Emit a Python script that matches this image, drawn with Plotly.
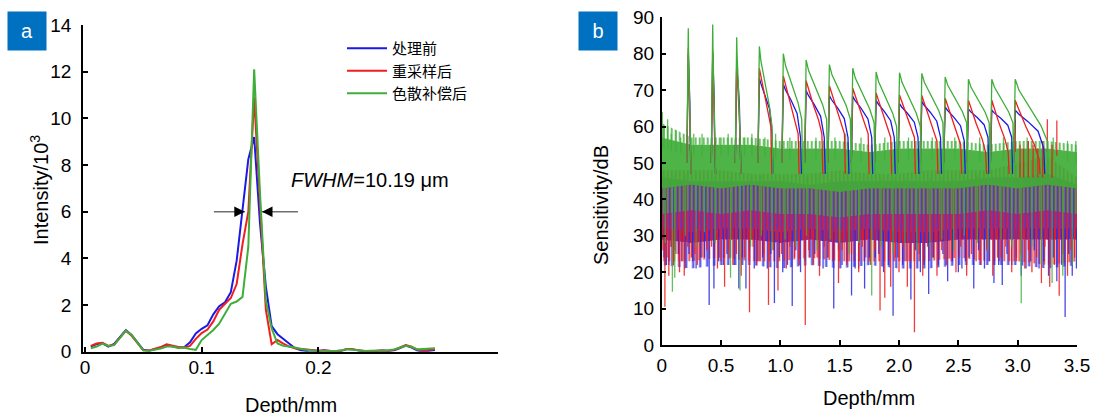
import numpy as np
import plotly.graph_objects as go

# ---------------- Panel a : axial point-spread profile ----------------
depth_a = [0.005, 0.010, 0.015, 0.020, 0.025, 0.030, 0.035, 0.040, 0.045, 0.050,
           0.055, 0.060, 0.065, 0.070, 0.075, 0.080, 0.085, 0.090, 0.095, 0.100,
           0.105, 0.110, 0.115, 0.120, 0.125, 0.130, 0.135, 0.140, 0.145, 0.150,
           0.155, 0.160, 0.165, 0.170, 0.175, 0.180, 0.185, 0.190, 0.195, 0.200,
           0.205, 0.210, 0.215, 0.220, 0.225, 0.230, 0.235, 0.240, 0.245, 0.250,
           0.255, 0.260, 0.265, 0.270, 0.275, 0.280, 0.285, 0.290, 0.295, 0.300]

raw_a = [0.22, 0.33, 0.36, 0.22, 0.33, 0.62, 0.92, 0.72, 0.38, 0.08,
         0.04, 0.10, 0.18, 0.30, 0.22, 0.18, 0.19, 0.40, 0.78, 0.98,
         1.13, 1.60, 1.95, 2.12, 2.55, 3.90, 6.00, 8.25, 9.20, 5.50,
         2.80, 1.10, 0.75, 0.55, 0.32, 0.15, 0.06, 0.03, 0.05, 0.03,
         0.06, 0.02, 0.00, 0.04, 0.12, 0.10, 0.04, 0.02, 0.00, 0.03,
         0.05, 0.03, 0.06, 0.16, 0.26, 0.18, 0.05, 0.00, 0.04, 0.07]

resampled_a = [0.25, 0.35, 0.38, 0.25, 0.30, 0.60, 0.90, 0.68, 0.35, 0.06,
               0.05, 0.12, 0.20, 0.32, 0.25, 0.20, 0.18, 0.25, 0.55, 0.80,
               0.95, 1.30, 1.80, 2.05, 2.30, 2.90, 4.60, 6.00, 10.90, 6.40,
               1.80, 0.32, 0.50, 0.35, 0.22, 0.15, 0.12, 0.08, 0.06, 0.04,
               0.05, 0.03, 0.02, 0.05, 0.12, 0.10, 0.05, 0.03, 0.02, 0.04,
               0.05, 0.04, 0.08, 0.18, 0.28, 0.22, 0.08, 0.05, 0.06, 0.10]

compensated_a = [0.15, 0.22, 0.35, 0.25, 0.28, 0.60, 0.90, 0.72, 0.38, 0.05,
                 0.04, 0.08, 0.14, 0.22, 0.22, 0.16, 0.18, 0.12, 0.08, 0.50,
                 0.72, 0.93, 1.20, 1.60, 2.05, 2.15, 2.35, 4.50, 12.10, 6.80,
                 2.20, 1.00, 0.35, 0.25, 0.22, 0.18, 0.12, 0.08, 0.05, 0.04,
                 0.03, 0.05, 0.03, 0.06, 0.10, 0.08, 0.04, 0.03, 0.04, 0.05,
                 0.04, 0.06, 0.10, 0.18, 0.25, 0.20, 0.10, 0.12, 0.14, 0.15]

# FWHM marker level and arrow ends (data units of panel a)
fwhm_level = 6.0
fwhm_left = [0.1105, 0.137]
fwhm_right = [0.1825, 0.1517]

# ---------------- Panel b : sensitivity fall-off ----------------
depth_env = [0.0, 0.25, 0.5, 0.75, 1.0, 1.25, 1.5, 1.75, 2.0, 2.25, 2.5, 2.75, 3.0, 3.25, 3.5]
# dense noise core
green_hi = [57, 55, 55, 55, 54, 54, 54, 53, 54, 54, 54, 53, 54, 54, 53]
green_lo = [43, 44, 43, 44, 43, 43, 42, 43, 43, 43, 43, 44, 43, 44, 43]
red_hi = [48, 48, 48, 47, 47, 47, 48, 47, 47, 48, 48, 48, 50, 52, 46]
red_lo = [29, 28.5, 29, 29, 28.5, 29, 28.5, 29, 28.5, 28.5, 29, 29, 29, 29, 29]
blue_hi = [46, 45, 45, 45, 45, 44, 45, 45, 45, 45, 45, 46, 46, 47, 44]
blue_lo = [29, 28, 29, 29, 28, 29, 28, 29, 28, 28, 29, 29, 29, 29, 29]
# sparse noise fringe
green_fringe_hi = [61, 57, 57, 57, 56, 56, 56, 55, 56, 56, 56, 55, 56, 56, 55]
green_fringe_lo = [36, 37, 36, 37, 36, 36, 35, 36, 36, 36, 36, 37, 36, 37, 36]
red_fringe_lo = [23, 23, 24, 23, 23, 24, 23, 23, 23, 23, 24, 23, 23, 22, 23]
blue_fringe_lo = [22, 21, 22, 22, 21, 22, 21, 22, 21, 21, 22, 22, 22, 21, 22]

red_spike_x = [0.027, 0.06, 0.10, 0.15, 0.19, 0.25, 0.30, 0.38, 0.47, 0.53, 0.60, 0.67, 0.74, 0.80,
               0.86, 0.90, 0.98, 1.05, 1.12, 1.21, 1.28, 1.33, 1.40, 1.49, 1.56, 1.66, 1.72, 1.84,
               1.88, 1.93, 2.00, 2.07, 2.13, 2.20, 2.32, 2.40, 2.48, 2.57, 2.65, 2.79, 2.86, 2.95,
               3.06, 3.12, 3.20, 3.27, 3.35, 3.42, 3.48,
               0.01, 0.045, 0.08, 0.12, 0.17, 0.22, 0.28, 0.34, 0.42, 0.50, 0.56, 0.63, 0.70, 0.77,
               0.83, 0.94, 1.01, 1.08, 1.16, 1.24, 1.31, 1.37, 1.44, 1.52, 1.60, 1.69, 1.76, 1.80,
               1.97, 2.03, 2.10, 2.17, 2.24, 2.28, 2.36, 2.44, 2.52, 2.61, 2.69, 2.74, 2.83, 2.90,
               2.99, 3.03, 3.09, 3.16, 3.23, 3.31, 3.38, 3.45]
red_spike_y = [10.5, 19, 22, 20, 19, 24, 22, 26, 21, 16, 22, 19, 9, 22,
               25, 11, 15, 21, 24, 5.5, 22, 19, 24, 17, 22, 20, 24, 9.5,
               13, 16, 20, 16, 3.5, 19, 19, 22, 20, 19, 23, 19, 24, 20,
               21, 20, 17, 16, 13.5, 19, 24,
               26, 24, 27, 25, 23, 27, 25, 24, 27, 23, 26, 25, 24, 27,
               23, 26, 25, 27, 22, 26, 24, 27, 23, 26, 25, 27, 22, 26,
               24, 27, 23, 25, 27, 24, 26, 23, 27, 25, 22, 26, 24, 27,
               23, 25, 26, 24, 27, 22, 25, 26]

red_up_x = [2.98, 3.02, 3.05, 3.09, 3.13, 3.17, 3.21, 3.25, 3.29, 3.33]
red_up_y = [53, 55, 54, 56, 55, 54, 56, 53, 55, 52]

blue_spike_x = [0.04, 0.08, 0.14, 0.196, 0.26, 0.33, 0.40, 0.44, 0.52, 0.58, 0.65, 0.71, 0.78, 0.85,
                0.95, 1.02, 1.10, 1.17, 1.25, 1.36, 1.45, 1.52, 1.60, 1.66, 1.71, 1.80, 1.87, 1.95,
                2.03, 2.10, 2.18, 2.25, 2.33, 2.41, 2.50, 2.56, 2.63, 2.72, 2.80, 2.87, 2.95, 3.03,
                3.11, 3.18, 3.26, 3.33, 3.40, 3.46, 3.495,
                0.02, 0.06, 0.11, 0.17, 0.23, 0.29, 0.36, 0.48, 0.55, 0.61, 0.68, 0.74, 0.81, 0.89,
                0.92, 0.99, 1.06, 1.13, 1.21, 1.29, 1.33, 1.40, 1.49, 1.56, 1.63, 1.75, 1.83, 1.91,
                1.99, 2.06, 2.14, 2.21, 2.29, 2.37, 2.45, 2.53, 2.59, 2.67, 2.76, 2.84, 2.91, 2.99,
                3.07, 3.14, 3.22, 3.30, 3.37, 3.43]
blue_spike_y = [22, 27, 25, 21, 23, 24, 11, 15.5, 22, 24, 15.5, 15.5, 21, 24,
                11.5, 20, 10.7, 20, 24, 21, 10, 22, 13.6, 21, 15.5, 24, 20, 8,
                22, 12.5, 20, 14, 22, 17.5, 20, 23, 15.5, 21, 17, 16.5, 22, 19,
                23, 21, 19, 17.5, 7.7, 19, 21,
                24, 22, 26, 23, 25, 21, 24, 23, 25, 22, 24, 26, 23, 21,
                25, 24, 22, 26, 23, 25, 22, 24, 26, 23, 21, 24, 25, 22,
                24, 23, 26, 22, 24, 25, 23, 21, 24, 26, 23, 22, 25, 24,
                21, 26, 23, 24, 22, 25]

green_spike_x = [0.03, 0.09, 0.11, 0.20, 0.29, 0.36, 0.45, 0.58, 0.66, 0.75, 0.84, 0.93, 1.04, 1.13,
                 1.22, 1.31, 1.42, 1.50, 1.58, 1.66, 1.77, 1.85, 1.95, 2.05, 2.15, 2.26, 2.36, 2.46,
                 2.55, 2.66, 2.75, 2.86, 2.95, 3.03, 3.12, 3.20, 3.29, 3.38, 3.46]
green_spike_y = [28, 14.6, 18.5, 30, 27, 31, 28, 18.5, 15, 27, 30, 26, 29, 27,
                 30, 26, 29, 28, 25, 28, 13.6, 27, 25, 28, 26, 27, 29, 26,
                 30, 28, 26, 29, 27, 11.5, 27, 22, 17, 19, 22]

green_up_x = [0.005, 0.02, 0.05, 0.08, 0.12, 0.16, 0.27, 0.34, 0.50, 0.56, 0.70, 0.76, 0.87, 0.96,
              1.08, 1.30, 1.46, 1.55, 1.68, 1.88, 2.08, 2.28, 2.47, 2.68, 2.88, 3.08, 3.30, 3.42, 3.49]
green_up_y = [64, 60, 62, 58, 59, 57, 58, 58, 57, 58, 57, 58, 57, 58,
              57, 57, 57, 58, 57, 57, 57, 57, 57, 57, 57, 57, 57, 56, 56]

# echo peaks (mirror positions) and their decay tails
peak_x = [0.224, 0.430, 0.632, 0.823, 1.025, 1.217, 1.413, 1.610, 1.807, 2.004, 2.192, 2.389, 2.585, 2.782, 2.979]
green_top = [87, 88, 84.5, 82, 80, 78.3, 77, 76, 75, 74.8, 74.6, 73.6, 73, 73, 73]
green_end_x = [0.240, 0.446, 0.66, 0.93, 1.18, 1.39, 1.59, 1.79, 1.98, 2.18, 2.37, 2.57, 2.76, 2.96, 3.25]
green_end_y = [56, 56, 58, 60, 62, 62, 62, 61, 60, 60, 61, 61, 61, 61, 56]
red_top = [81.5, 80.8, 77.8, 76, 73.9, 72.6, 71.2, 70.5, 69.2, 68.7, 68.5, 67.8, 67.2, 67.2, 67.2]
red_end_x = [0.240, 0.446, 0.66, 0.92, 1.15, 1.35, 1.54, 1.74, 1.93, 2.13, 2.32, 2.52, 2.73, 2.92, 3.18]
red_end_y = [56, 56, 58, 60, 58, 58, 58, 58, 57, 57, 56, 55, 53, 53, 51]
blue_top = [80, 80, 77, 73.3, 71.6, 69.9, 68.5, 68.3, 67.2, 66.3, 66.9, 65.4, 64.8, 64.5, 64.5]
blue_end_x = [0.240, 0.446, 0.66, 0.93, 1.17, 1.37, 1.57, 1.77, 1.96, 2.16, 2.35, 2.55, 2.75, 2.95, 3.22]
blue_end_y = [56, 56, 58, 58, 57, 57, 57, 57, 57, 57, 57, 56, 57, 57, 54]

decay_t = [0.0, 0.12, 0.45, 0.8, 1.0]
green_decay_f = [0.0, 0.18, 0.45, 0.75, 1.0]
red_decay_f = [0.0, 0.12, 0.45, 0.75, 1.0]
blue_decay_f = [0.0, 0.10, 0.30, 0.55, 1.0]

# ---------------- styling ----------------
BLUE = "#1a1ae6"
RED = "#f01e1e"
GREEN = "#3fae38"
FONT = "Liberation Sans, Arial, sans-serif"
CJK = "Noto Sans CJK SC"
W, H = 1094, 413


def px_x(v):
    return v / W


def px_y(v):
    return 1 - v / H


fig = go.Figure()

# panel a curves
for name, ys, col in [("处理前", raw_a, BLUE), ("重采样后", resampled_a, RED), ("色散补偿后", compensated_a, GREEN)]:
    fig.add_trace(go.Scatter(x=depth_a, y=ys, mode="lines", name=name,
                             line=dict(color=col, width=2), xaxis="x", yaxis="y"))


# panel b
def band(lo, hi, color, pattern=None):
    fig.add_trace(go.Scatter(x=depth_env, y=lo, mode="lines", line=dict(width=0),
                             showlegend=False, hoverinfo="skip", xaxis="x2", yaxis="y2"))
    kw = dict(fillcolor=color)
    if pattern is not None:
        kw["fillpattern"] = pattern
    fig.add_trace(go.Scatter(x=depth_env, y=hi, mode="lines", line=dict(width=0), fill="tonexty",
                             showlegend=False, hoverinfo="skip", xaxis="x2", yaxis="y2", **kw))


def streaks(color, size, solidity):
    return dict(shape="|", fgcolor=color, bgcolor="rgba(0,0,0,0)", size=size, solidity=solidity)


def spikes(xs, ys, edge, color, width=1.3, inset=3.0):
    sx, sy = [], []
    for x, y in zip(xs, ys):
        e = float(np.interp(x, depth_env, edge))
        base = e + inset if y < e else e - inset
        sx += [x, x, None]
        sy += [base, y, None]
    fig.add_trace(go.Scatter(x=sx, y=sy, mode="lines", line=dict(color=color, width=width),
                             showlegend=False, hoverinfo="skip", xaxis="x2", yaxis="y2"))


def peaks(top, end_x, end_y, frac, color):
    sx, sy = [], []
    for xp, tp, ex, ey in zip(peak_x, top, end_x, end_y):
        sx.append(xp - 0.012)
        sy.append(50)
        for t, f in zip(decay_t, frac):
            sx.append(xp + t * (ex - xp))
            sy.append(tp - f * (tp - ey))
        sx += [ex + 0.008, None]
        sy += [47, None]
    fig.add_trace(go.Scatter(x=sx, y=sy, mode="lines", line=dict(color=color, width=1.3),
                             showlegend=False, hoverinfo="skip", xaxis="x2", yaxis="y2"))


TRANS = "rgba(0,0,0,0)"
band(blue_fringe_lo, blue_lo, TRANS, streaks("rgba(40,40,225,0.85)", 7, 0.3))
band(blue_lo, blue_hi, "rgba(40,40,225,0.9)")
band(red_fringe_lo, red_lo, TRANS, streaks("rgba(240,25,25,0.85)", 5, 0.35))
band(red_lo, red_hi, TRANS, streaks("rgba(240,25,25,0.95)", 4, 0.55))
spikes(blue_spike_x, blue_spike_y, blue_lo, "rgba(40,40,225,0.85)")
spikes(red_spike_x, red_spike_y, red_lo, "rgba(240,25,25,0.85)")
band(green_fringe_lo, green_lo, TRANS, streaks("rgba(63,174,56,0.85)", 4, 0.45))
band(green_hi, green_fringe_hi, TRANS, streaks("rgba(63,174,56,0.85)", 4, 0.45))
band(green_lo, green_hi, "rgba(63,174,56,0.92)")
spikes(green_spike_x, green_spike_y, green_lo, "rgba(63,174,56,0.8)")
spikes(green_up_x, green_up_y, green_hi, "rgba(63,174,56,0.8)")
spikes(red_up_x, red_up_y, green_hi, "rgba(240,25,25,0.85)", inset=8.0)
peaks(blue_top, blue_end_x, blue_end_y, blue_decay_f, BLUE)
peaks(red_top, red_end_x, red_end_y, red_decay_f, RED)
peaks(green_top, green_end_x, green_end_y, green_decay_f, GREEN)

axis_common = dict(showline=True, linecolor="black", linewidth=1.5, ticks="inside", ticklen=5,
                   tickcolor="black", tickwidth=1.5, showgrid=False, zeroline=False, automargin=False,
                   tickfont=dict(family=FONT, size=19, color="black"))

fig.update_layout(
    template="none",
    width=W, height=H, margin=dict(l=0, r=0, t=0, b=0, pad=0, autoexpand=False),
    paper_bgcolor="white", plot_bgcolor="rgba(0,0,0,0)",
    xaxis=dict(domain=[px_x(83), px_x(498)], range=[-0.0017, 0.354], anchor="y",
               tickvals=[0, 0.1, 0.2], ticktext=["0", "0.1", "0.2"], ticklabelstandoff=-2, **axis_common),
    yaxis=dict(domain=[px_y(351.7), px_y(25)], range=[0, 14], anchor="x",
               tickvals=list(range(0, 15, 2)), ticklabelstandoff=6, **axis_common),
    xaxis2=dict(domain=[px_x(661.7), px_x(1077)], range=[0, 3.5], anchor="y2",
                tickvals=[0, 0.5, 1.0, 1.5, 2.0, 2.5, 3.0, 3.5],
                ticktext=["0", "0.5", "1.0", "1.5", "2.0", "2.5", "3.0", "3.5"], ticklabelstandoff=2, **axis_common),
    yaxis2=dict(domain=[px_y(345), px_y(17.3)], range=[0, 90], anchor="x2",
                tickvals=list(range(0, 91, 10)), ticklabelstandoff=2, **axis_common),
    showlegend=True,
    legend=dict(x=px_x(342), y=px_y(32), xanchor="left", yanchor="top", traceorder="normal",
                font=dict(family=CJK, size=15, color="black"), bgcolor="rgba(0,0,0,0)",
                itemwidth=40, tracegroupgap=0),
)

annotations = [
    dict(text="Intensity/10<sup>3</sup>", x=px_x(39), y=px_y(190), textangle=-90),
    dict(text="Depth/mm", x=px_x(291), y=px_y(405)),
    dict(text="Sensitivity/dB", x=px_x(601), y=px_y(205), textangle=-90),
    dict(text="Depth/mm", x=px_x(869), y=px_y(398)),
    dict(text="<i>FWHM</i>=10.19 μm", x=px_x(370), y=px_y(180)),
]
for a in annotations:
    a.update(xref="paper", yref="paper", showarrow=False, xanchor="center", yanchor="middle",
             font=dict(family=FONT, size=20, color="black"))
    fig.add_annotation(**a)

# FWHM arrows: grey shafts with black heads
for (x_tail, x_tip) in [fwhm_left, fwhm_right]:
    fig.add_shape(type="line", xref="x", yref="y", x0=x_tail, x1=x_tip, y0=fwhm_level, y1=fwhm_level,
                  line=dict(color="#6e6e6e", width=1.5))
    direction = 1 if x_tail < x_tip else -1
    fig.add_annotation(x=x_tip, y=fwhm_level, ax=x_tip - direction * 0.006, ay=fwhm_level,
                       xref="x", yref="y", axref="x", ayref="y", text="", showarrow=True,
                       arrowhead=2, arrowsize=1.4, arrowcolor="black", arrowwidth=1.5)

# panel tags (blue square with white letter)
for tag, x0 in [("a", 7), ("b", 578)]:
    fig.add_annotation(text=tag, xref="paper", yref="paper", x=px_x(x0), y=px_y(11),
                       xanchor="left", yanchor="top", showarrow=False, width=36, height=36,
                       align="center", valign="middle", bgcolor="#0070C0", borderpad=1,
                       font=dict(family=FONT, size=20, color="white"))

fig.write_html("out.html")
